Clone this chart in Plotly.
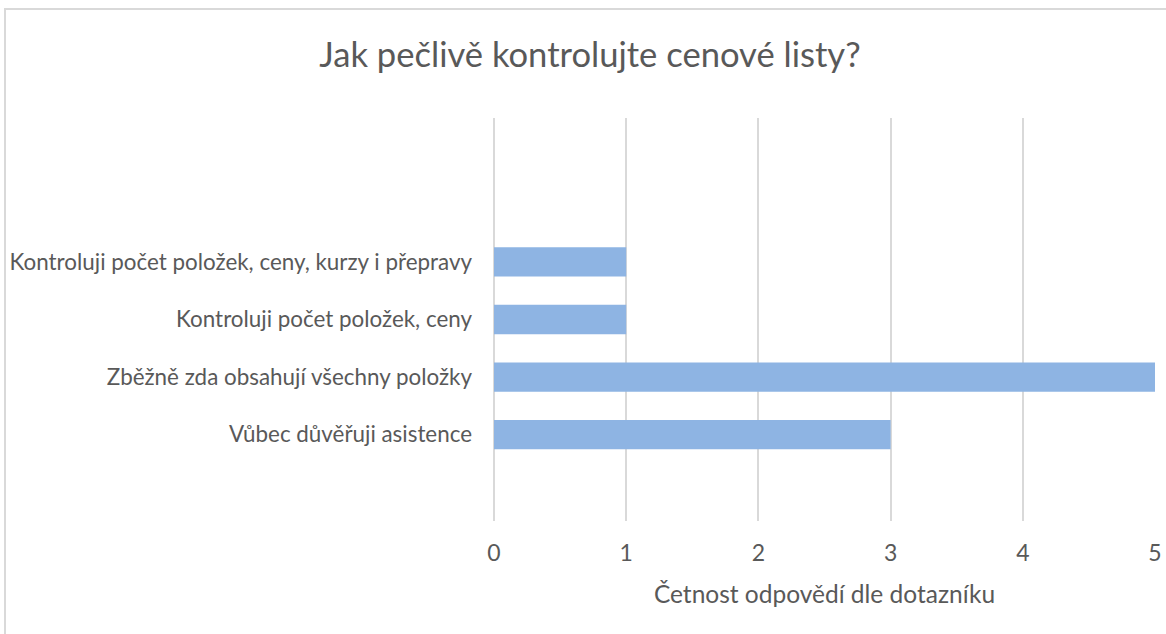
import plotly.graph_objects as go

# kategorie odspodu nahoru (prázdné sloty jako v původním grafu)
kategorie = [" ", "Vůbec důvěřuji asistence", "Zběžně zda obsahují všechny položky",
             "Kontroluji počet položek, ceny", "Kontroluji počet položek, ceny, kurzy i přepravy",
             "  ", "   "]
cetnost = [None, 3, 5, 1, 1, None, None]
x_ticks = [0, 1, 2, 3, 4, 5]

FONT = "Lato"
SEDA = "#595959"

W, H = 1166, 634
L, R, T, B = 494, 11, 118, 113
PW, PH = W - L - R, H - T - B

fig = go.Figure(go.Bar(
    y=kategorie, x=cetnost, orientation="h",
    marker=dict(color="#8EB4E3", line=dict(width=0)),
    hoverinfo="x+y",
))

fig.update_layout(
    width=W, height=H,
    margin=dict(l=L, r=R, t=T, b=B),
    paper_bgcolor="white", plot_bgcolor="white",
    bargap=0.49,
    showlegend=False,
    font=dict(family=FONT, color=SEDA, size=22),
    title=dict(text="Jak pečlivě kontrolujte cenové listy?",
               x=590 / W, xanchor="center", y=1 - 55 / H, yanchor="middle",
               yref="container",
               font=dict(family=FONT, size=34.6, color=SEDA)),
)

fig.update_xaxes(
    range=[0, 5], tickvals=x_ticks, automargin=False,
    showgrid=True, gridcolor="#D9D9D9", gridwidth=1.5,
    zeroline=True, zerolinecolor="#D9D9D9", zerolinewidth=1.5,
    showline=False, ticks="", ticklabelstandoff=16,
    tickfont=dict(size=23, color=SEDA),
    title=dict(text="Četnost odpovědí dle dotazníku", standoff=20,
               font=dict(size=24.5, color=SEDA)),
)
fig.update_yaxes(
    type="category", categoryorder="array", categoryarray=kategorie,
    automargin=False,
    showgrid=False, zeroline=False, showline=False, ticks="",
    ticklabelstandoff=21, tickfont=dict(size=22.4, color=SEDA),
)

# rámeček grafu (vlevo a nahoře, jako ve výřezu)
fig.add_shape(type="rect", xref="paper", yref="paper",
              x0=(5 - L) / PW, x1=1.2, y0=-0.5, y1=1 + (T - 9) / PH,
              line=dict(color="#D9D9D9", width=2), fillcolor="rgba(0,0,0,0)",
              layer="below")

# bez okraje stránky, aby graf seděl přesně do okna
fig.write_html("out.html",
               config={"displayModeBar": False},
               post_script="document.body.style.margin='0';"
                           "document.body.style.overflow='hidden';")
